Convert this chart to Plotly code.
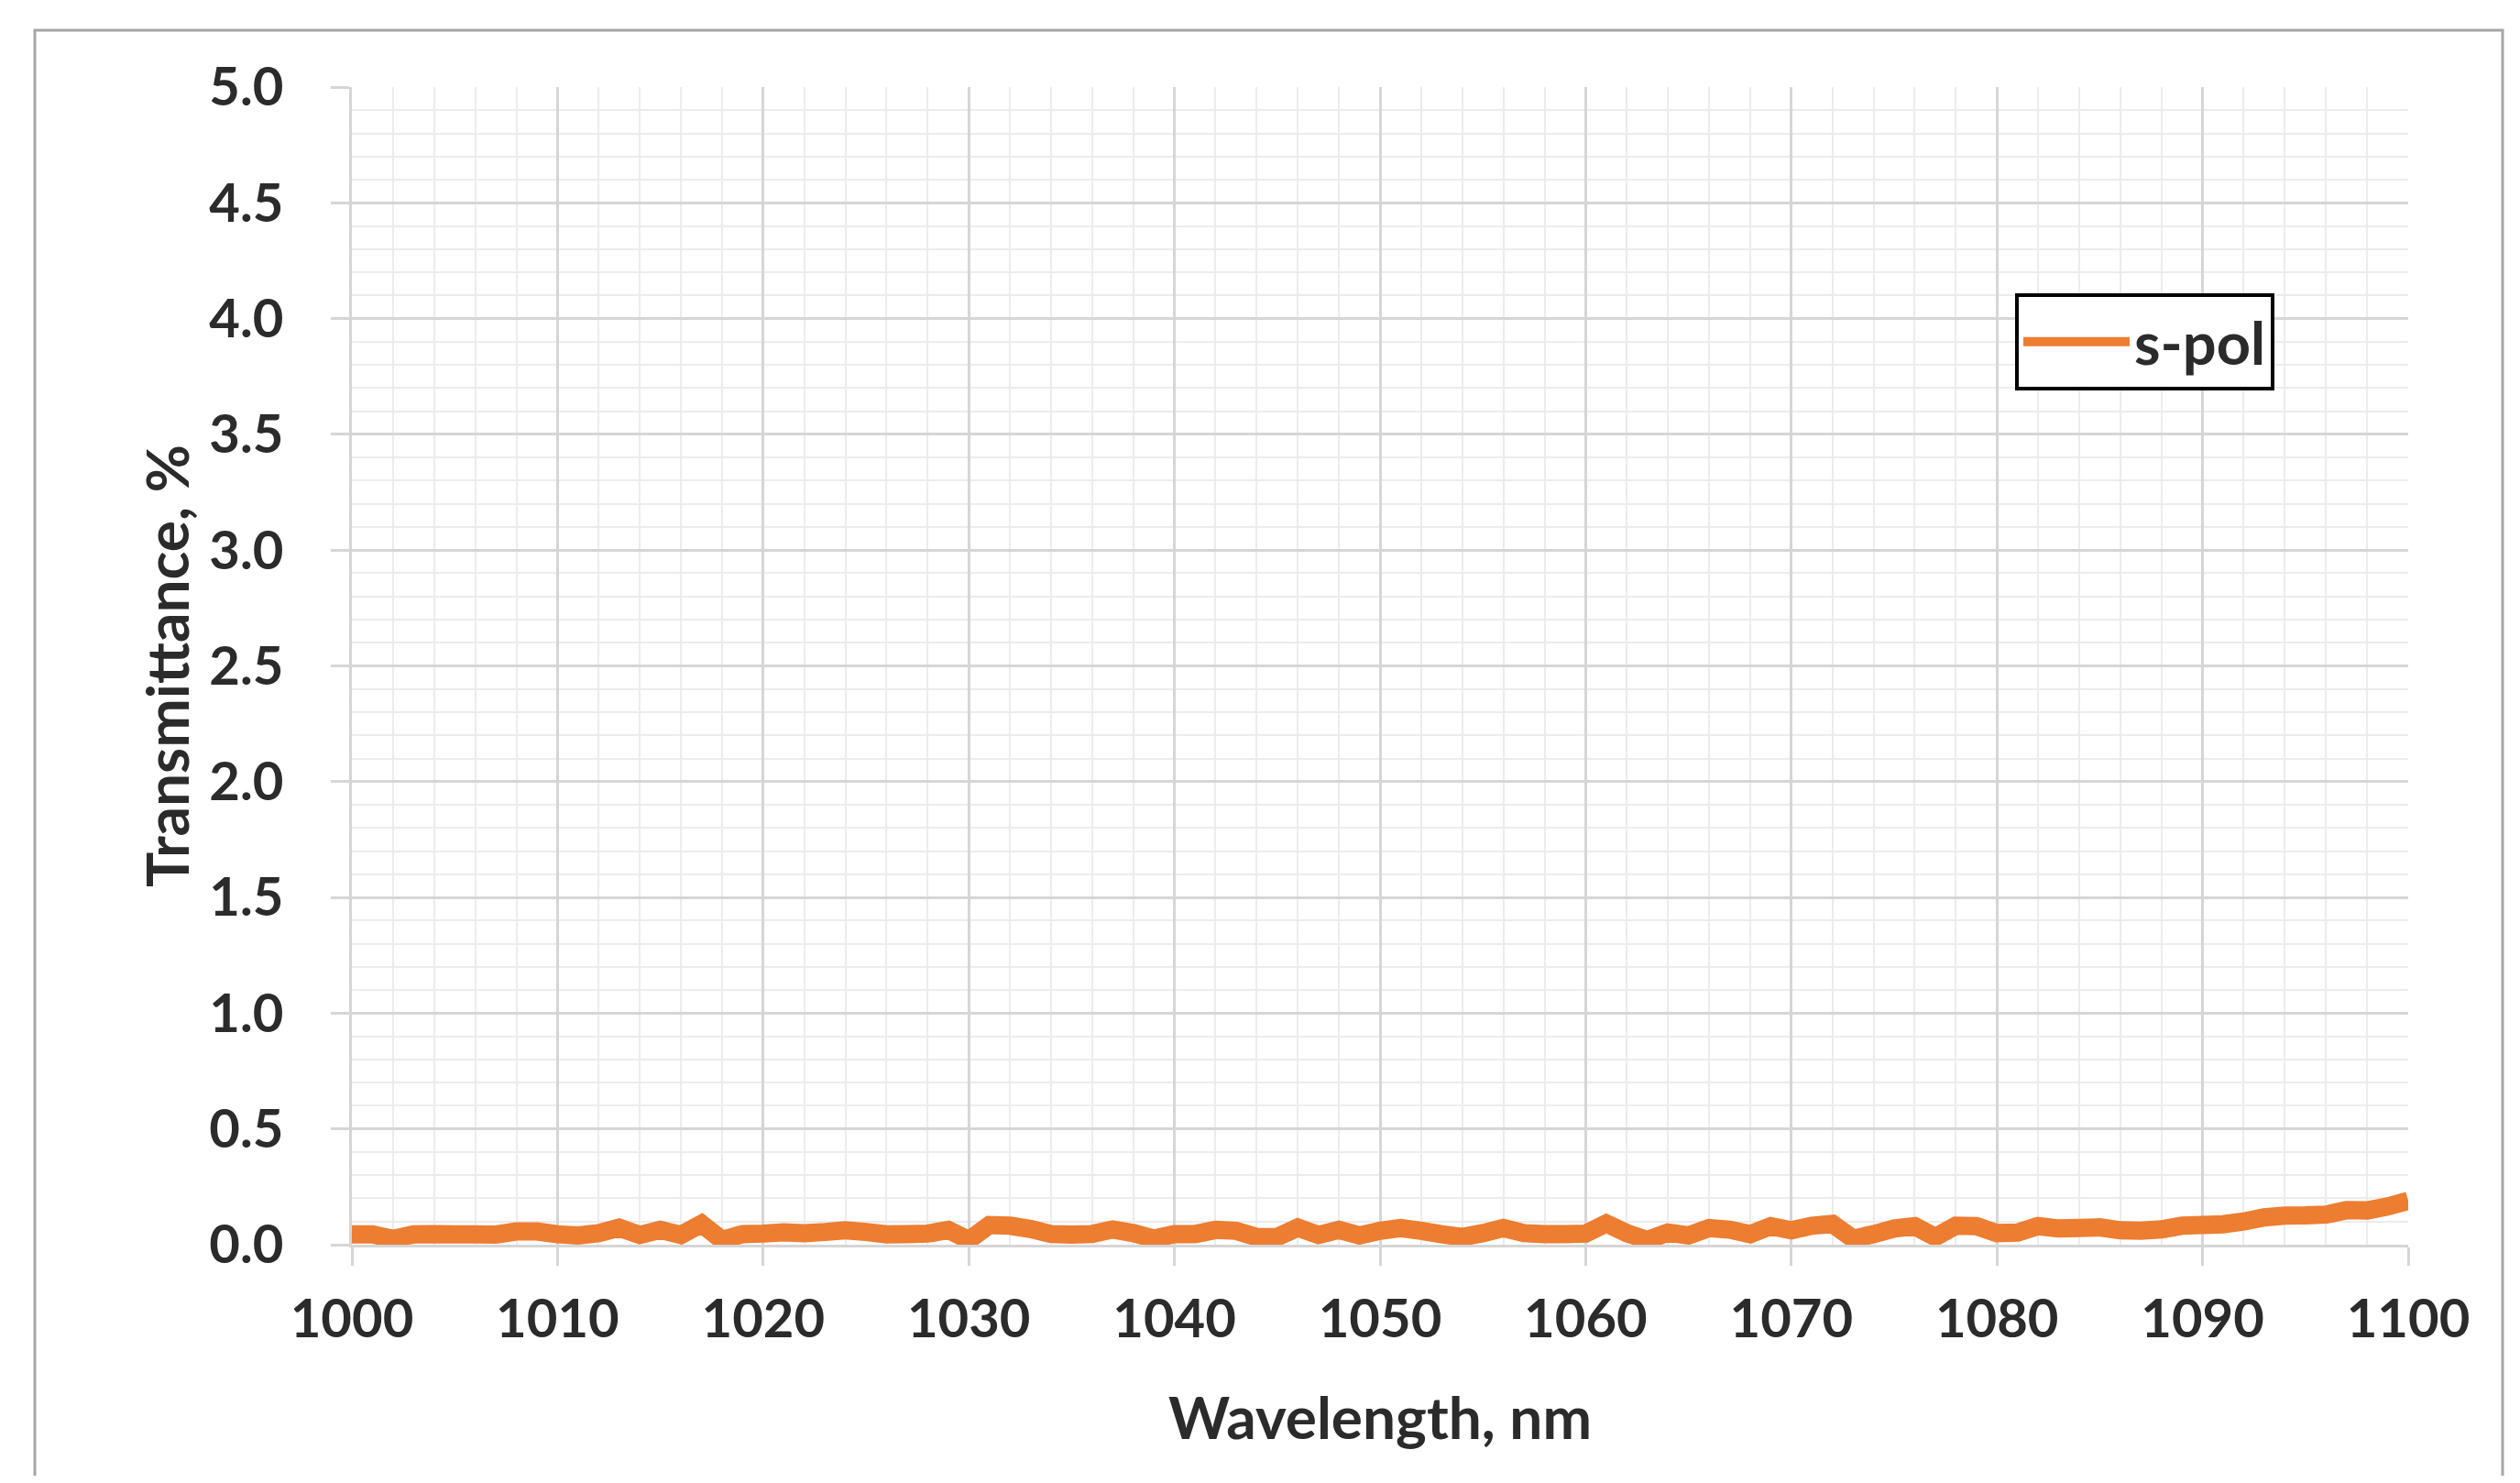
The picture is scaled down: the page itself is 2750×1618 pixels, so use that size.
import plotly.graph_objects as go

wavelength = list(range(1000, 1101))
s_pol = [
    0.045, 0.045, 0.025, 0.045, 0.046, 0.045, 0.045, 0.044, 0.057, 0.057,
    0.045, 0.040, 0.050, 0.073, 0.042, 0.064, 0.042, 0.090, 0.020, 0.046,
    0.048, 0.053, 0.050, 0.055, 0.062, 0.055, 0.045, 0.046, 0.048, 0.064,
    0.020, 0.085, 0.082, 0.068, 0.046, 0.044, 0.046, 0.066, 0.050, 0.026,
    0.046, 0.046, 0.064, 0.060, 0.033, 0.033, 0.074, 0.042, 0.064, 0.040,
    0.060, 0.072, 0.060, 0.045, 0.033, 0.050, 0.072, 0.050, 0.046, 0.046,
    0.048, 0.092, 0.050, 0.020, 0.052, 0.040, 0.072, 0.065, 0.045, 0.080,
    0.062, 0.082, 0.090, 0.026, 0.045, 0.070, 0.080, 0.033, 0.082, 0.080,
    0.050, 0.052, 0.080, 0.070, 0.072, 0.075, 0.062, 0.060, 0.066, 0.082,
    0.085, 0.088, 0.100, 0.118, 0.126, 0.127, 0.130, 0.149, 0.148, 0.165,
    0.190,
]
series_name = "s-pol"
x_title = "Wavelength, nm"
y_title = "Transmittance, %"

TEXT = "#2b2b2b"
FONT = "Lato"

fig = go.Figure()
fig.add_trace(go.Scatter(
    x=wavelength, y=s_pol, mode="lines", name=series_name,
    line=dict(color="#ED7D31", width=20, simplify=False),
))

# page has an 8px body margin around the figure
OFF = 8
W, H = 2734, 1602
L, R, T, B = 376, 114, 87, 252
pw, ph = W - L - R, H - T - B

def px_x(p):
    return (p - OFF - L) / pw

def px_y(p):
    return (H - B - (p - OFF)) / ph

fig.update_layout(
    width=W, height=H,
    margin=dict(l=L, r=R, t=T, b=B, autoexpand=False),
    paper_bgcolor="white", plot_bgcolor="white",
    font=dict(family=FONT, color=TEXT, size=58, weight="bold"),
    showlegend=True,
    legend=dict(
        x=px_x(2199), y=px_y(320), xanchor="left", yanchor="top",
        bgcolor="white", bordercolor="black", borderwidth=4,
        font=dict(family=FONT, size=65, color=TEXT, weight="bold"),
        itemwidth=116,
    ),
    shapes=[dict(
        type="rect", xref="paper", yref="paper",
        x0=px_x(38), x1=px_x(2731), y0=-0.3, y1=px_y(33),
        line=dict(color="#a6a6a6", width=3), fillcolor="rgba(0,0,0,0)",
        layer="below",
    )],
)

fig.update_xaxes(
    range=[1000, 1100], tick0=1000, dtick=10,
    showgrid=True, gridcolor="#d6d6d6", gridwidth=3,
    minor=dict(dtick=2, showgrid=True, gridcolor="#ececec", gridwidth=2),
    ticks="outside", ticklen=20, tickcolor="#d6d6d6", tickwidth=3,
    showline=True, linecolor="#d6d6d6", linewidth=3,
    zeroline=False,
    tickfont=dict(family=FONT, size=58, color=TEXT, weight="bold"),
    ticklabelstandoff=8,
    title=dict(text=x_title, standoff=56,
               font=dict(family=FONT, size=64, color=TEXT, weight="bold")),
)
fig.update_yaxes(
    range=[0, 5], tick0=0, dtick=0.5, tickformat=".1f",
    showgrid=True, gridcolor="#d6d6d6", gridwidth=3,
    minor=dict(dtick=0.1, showgrid=True, gridcolor="#ececec", gridwidth=2),
    ticks="outside", ticklen=20, tickcolor="#d6d6d6", tickwidth=3,
    showline=True, linecolor="#d6d6d6", linewidth=3,
    zeroline=False,
    tickfont=dict(family=FONT, size=58, color=TEXT, weight="bold"),
    ticklabelstandoff=40,
    title=dict(text=y_title, standoff=1,
               font=dict(family=FONT, size=64, color=TEXT, weight="bold")),
)

fig.write_html("out.html")
